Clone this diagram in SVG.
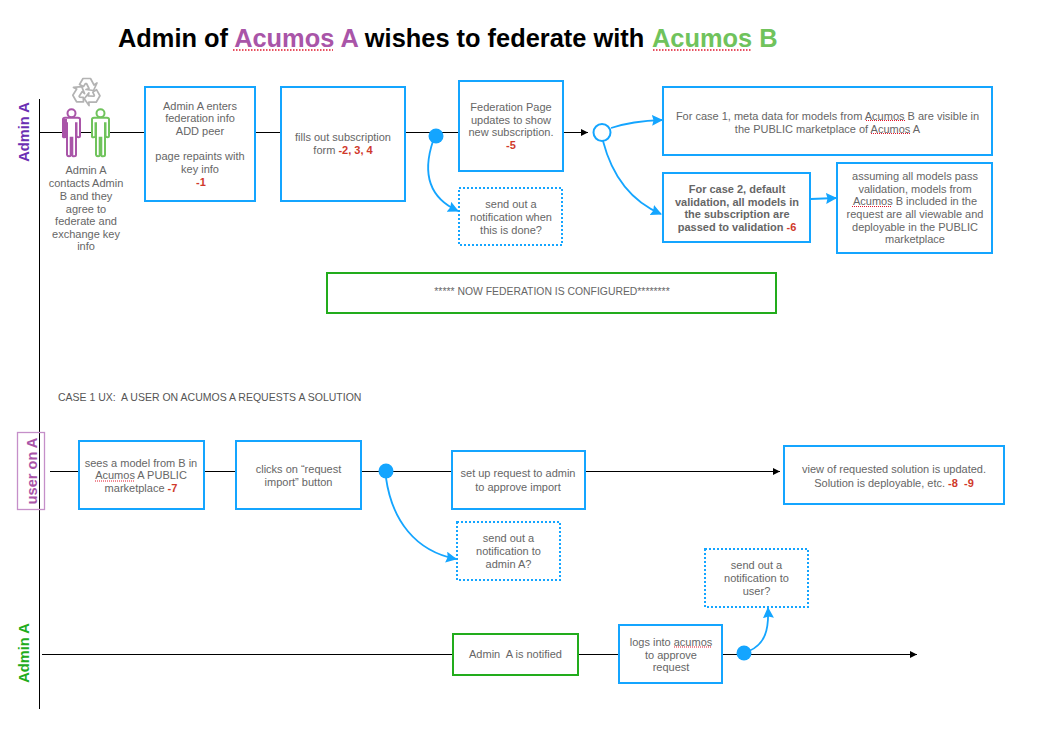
<svg xmlns="http://www.w3.org/2000/svg" width="1046" height="751" viewBox="0 0 1046 751">
<style>
text{font-family:"Liberation Sans",Arial,sans-serif;white-space:pre}
.t{font-size:11px;fill:#666;text-anchor:middle}
.b{font-weight:bold}
.r{fill:#d0392b;font-weight:bold}
.box{fill:#fff;stroke:#14a5ff;stroke-width:2}
.dot{fill:#fff;stroke:#14a5ff;stroke-width:2;stroke-dasharray:2 2}
.gbox{fill:#fff;stroke:#22ac1c;stroke-width:2}
.l{stroke:#000;stroke-width:1;fill:none}
.c{stroke:#14a5ff;stroke-width:1.8;fill:none}
.sq{stroke:#e0182d;stroke-width:1;stroke-dasharray:1 1;fill:none}
.lane{font-size:14.600px;font-weight:bold;text-anchor:middle}
</style>
<defs>
<marker id="ab" markerUnits="userSpaceOnUse" markerWidth="12" markerHeight="12" refX="10" refY="5.500" orient="auto"><path d="M0 0L11 5.500L0 11L1.500 5.500z" fill="#14a5ff"/></marker>
<marker id="ak" markerUnits="userSpaceOnUse" markerWidth="8" markerHeight="8" refX="7" refY="3.500" orient="auto"><path d="M0 0L7 3.500L0 7z" fill="#000"/></marker>
<g id="man"><circle cx="0" cy="-17.500" r="4"/><path d="M-8.500 -11.500Q-8.500 -13 -6.500 -13H6.500Q8.500 -13 8.500 -11.500V5Q8.500 6.500 7 6.500T5 5V-7.500H4.500V24Q4.500 25.500 2.500 25.500T.8 24V7H-.8V24Q-.8 25.500 -2.500 25.500T-4.500 24V-7.500H-5V5Q-5 6.500 -7 6.500T-8.500 5z"/></g>
<path id="rec" d="M-7 -7.500L-3.500 -13.500H4L7.500 -7L10.500 -9L7 -1.500L-.5 -2.500L2.500 -3.500L0 -8.500H-1L-3 -5.500z"/>
</defs>

<text id="title" y="47" font-size="25.400px" font-weight="bold" fill="#000"><tspan x="118">Admin of </tspan><tspan fill="#a955a8">Acumos A</tspan> wishes to federate with <tspan x="652" fill="#70c35c">Acumos B</tspan></text>
<path class="sq" style="stroke-width:1.500;stroke-dasharray:1.500 1.500" d="M233 50H333M653 50H752"/>

<g id="connectors">
<path class="l" d="M39.500 99V709"/>
<path class="l" d="M39.500 132.500H144M255 132.500H281M405 132.500H459"/>
<path class="l" marker-end="url(#ak)" d="M563 132.500H588"/>
<path class="c" marker-end="url(#ab)" d="M611 128Q632 121 662 120"/>
<path class="c" marker-end="url(#ab)" d="M603 141Q617 195 661 214"/>
<path class="c" marker-end="url(#ab)" d="M811 199L836 198"/>
<path class="c" marker-end="url(#ab)" d="M433 141C420 180 434 200 458 211"/>
<path class="l" d="M50 471.500H79M205 471.500H236M361 471.500H452"/>
<path class="l" marker-end="url(#ak)" d="M585 471.500H780"/>
<path class="c" marker-end="url(#ab)" d="M386 478C392 520 415 551 456 559"/>
<path class="l" d="M42 654.500H453M578 654.500H619"/>
<path class="l" marker-end="url(#ak)" d="M722 654.500H917"/>
<path class="c" marker-end="url(#ab)" d="M749 651C765 644 769 630 768 608"/>
</g>

<g id="lane-admin-a"><text class="lane" transform="translate(29 132) rotate(-90)" fill="#6b2fb3">Admin A</text></g>
<g id="lane-user-a"><rect x="17.500" y="432.500" width="27" height="77" fill="none" stroke="#c58fc9" stroke-width="1.300"/><text class="lane" transform="translate(37 471) rotate(-90)" fill="#a955a8">user on A</text></g>
<g id="lane-admin-a2"><text class="lane" transform="translate(29 653) rotate(-90)" fill="#22ac1c">Admin A</text></g>

<g id="recycle" fill="none" stroke="#b3b3b3" stroke-width="1.700" stroke-linejoin="round">
<use href="#rec" transform="translate(86.500 92)"/>
<use href="#rec" transform="translate(86.500 92) rotate(120)"/>
<use href="#rec" transform="translate(86.500 92) rotate(240)"/>
</g>
<g id="admin-a-person" fill="#fff" stroke="#a955a8" stroke-width="2"><use href="#man" x="71.500" y="130.800"/><path d="M63 119H67V137H63z" fill="#a955a8" stroke="none"/></g>
<g id="admin-b-person" fill="#fff" stroke="#70c35c" stroke-width="2"><use href="#man" x="100.500" y="130.800"/></g>
<g id="contact-label"><text class="t"><tspan x="86" y="174">Admin A</tspan><tspan x="86" y="186.500">contacts Admin</tspan><tspan x="86" y="199.500">B and they</tspan><tspan x="86" y="212.500">agree to</tspan><tspan x="86" y="224.500">federate and</tspan><tspan x="86" y="237.500">exchange key</tspan><tspan x="86" y="250">info</tspan></text></g>

<g id="n1"><rect class="box" x="145" y="87" width="110" height="114"/><text class="t"><tspan x="200" y="110">Admin A enters</tspan><tspan x="200" y="122">federation info</tspan><tspan x="200" y="135">ADD peer</tspan><tspan x="200" y="160">page repaints with</tspan><tspan x="200" y="173">key info</tspan><tspan x="201" y="186" class="r">-1</tspan></text></g>
<g id="n2"><rect class="box" x="281" y="87" width="124" height="114"/><text class="t"><tspan x="343" y="141">fills out subscription</tspan><tspan x="343" y="154">form <tspan class="r">-2, 3, 4</tspan></tspan></text></g>
<g id="split1"><circle cx="436" cy="136" r="7.500" fill="#14a5ff"/></g>
<g id="n3"><rect class="box" x="459" y="81" width="104" height="90"/><text class="t"><tspan x="511" y="111">Federation Page</tspan><tspan x="511" y="124">updates to show</tspan><tspan x="511" y="136">new subscription.</tspan><tspan x="511" y="149" class="r">-5</tspan></text></g>
<g id="n3b"><rect class="dot" x="459" y="188" width="103" height="57"/><text class="t"><tspan x="511" y="208">send out a</tspan><tspan x="511" y="221">notification when</tspan><tspan x="511" y="234">this is done?</tspan></text></g>
<g id="split2"><circle cx="602" cy="132.500" r="8.500" fill="#fff" stroke="#14a5ff" stroke-width="2"/></g>
<g id="n4"><rect class="box" x="663" y="87" width="329" height="68"/><text class="t"><tspan x="827.500" y="119.500">For case 1, meta data for models from Acumos B are visible in</tspan><tspan x="827.500" y="132.500">the PUBLIC marketplace of Acumos A</tspan></text><path class="sq" d="M866 120.500H905M871 133.500H911"/></g>
<g id="n5"><rect class="box" x="663" y="173" width="147" height="69"/><text class="t b"><tspan x="737" y="193">For case 2, default</tspan><tspan x="737" y="206">validation, all models in</tspan><tspan x="737" y="218">the subscription are</tspan><tspan x="737" y="231">passed to validation <tspan class="r">-6</tspan></tspan></text></g>
<g id="n6"><rect class="box" x="837" y="163" width="155" height="90"/><text class="t"><tspan x="915" y="180">assuming all models pass</tspan><tspan x="915" y="193">validation, models from</tspan><tspan x="915" y="205">Acumos B included in the</tspan><tspan x="915" y="218">request are all viewable and</tspan><tspan x="915" y="231">deployable in the PUBLIC</tspan><tspan x="915" y="243">marketplace</tspan></text><path class="sq" d="M852 206.500H891"/></g>
<g id="n7"><rect class="gbox" x="327" y="273" width="449" height="40"/><text class="t" style="font-size:10.400px"><tspan x="552" y="295">***** NOW FEDERATION IS CONFIGURED********</tspan></text></g>
<g id="case-label"><text x="58" y="401" style="font-size:10.500px;fill:#555">CASE 1 UX:  A USER ON ACUMOS A REQUESTS A SOLUTION</text></g>

<g id="n8"><rect class="box" x="79" y="441" width="125" height="68"/><text class="t"><tspan x="141" y="467">sees a model from B in</tspan><tspan x="141" y="479">Acumos A PUBLIC</tspan><tspan x="141" y="492">marketplace <tspan class="r">-7</tspan></tspan></text><path class="sq" d="M95 481H135"/></g>
<g id="n9"><rect class="box" x="236" y="441" width="125" height="68"/><text class="t"><tspan x="298.500" y="473">clicks on “request</tspan><tspan x="298.500" y="486">import” button</tspan></text></g>
<g id="split3"><circle cx="386" cy="471" r="7.500" fill="#14a5ff"/></g>
<g id="n10"><rect class="box" x="452" y="451" width="133" height="58"/><text class="t"><tspan x="518" y="477">set up request to admin</tspan><tspan x="518" y="491">to approve import</tspan></text></g>
<g id="n11"><rect class="dot" x="457" y="522" width="103" height="58"/><text class="t"><tspan x="508.500" y="542">send out a</tspan><tspan x="508.500" y="555">notification to</tspan><tspan x="508.500" y="568">admin A?</tspan></text></g>
<g id="n12"><rect class="box" x="784" y="446" width="220" height="58"/><text class="t"><tspan x="894" y="473">view of requested solution is updated.</tspan><tspan x="894" y="487">Solution is deployable, etc. <tspan class="r">-8  -9</tspan></tspan></text></g>

<g id="n13"><rect class="gbox" x="453" y="634" width="125" height="41"/><text class="t"><tspan x="515.500" y="658">Admin  A is notified</tspan></text></g>
<g id="n14"><rect class="box" x="619" y="625" width="103" height="58"/><text class="t"><tspan x="671" y="646">logs into acumos</tspan><tspan x="671" y="659">to approve</tspan><tspan x="671" y="671">request</tspan></text><path class="sq" d="M674 647H711"/></g>
<g id="split4"><circle cx="744" cy="653" r="7.500" fill="#14a5ff"/></g>
<g id="n15"><rect class="dot" x="705" y="549" width="103" height="58"/><text class="t"><tspan x="756.500" y="569">send out a</tspan><tspan x="756.500" y="582">notification to</tspan><tspan x="756.500" y="595">user?</tspan></text></g>
</svg>
